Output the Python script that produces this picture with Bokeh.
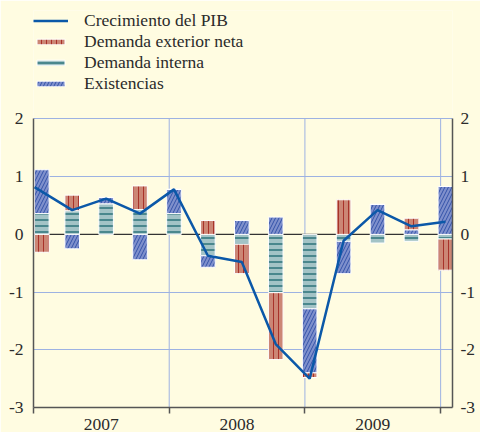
import numpy as np
from bokeh.plotting import figure
from bokeh.models import Range1d, FixedTicker, LinearAxis, Span, Legend, LegendItem
from bokeh.embed import file_html
from bokeh.resources import INLINE

# ---- data (quarters) ----
quarters = ["2007-I", "2007-II", "2007-III", "2007-IV",
            "2008-I", "2008-II", "2008-III", "2008-IV",
            "2009-I", "2009-II", "2009-III", "2009-IV", "2010-I"]
years = ["2007", "2008", "2009"]
pib = [0.82, 0.42, 0.62, 0.36, 0.78, -0.37, -0.48, -1.90, -2.50, -0.11, 0.42, 0.14, 0.22]
exterior = [-0.31, 0.27, 0.00, 0.41, 0.00, 0.24, -0.51, -1.16, -0.08, 0.60, 0.00, 0.20, -0.54]
interna = [0.36, 0.41, 0.53, 0.43, 0.36, -0.37, -0.17, -1.01, -1.29, -0.12, -0.15, -0.12, -0.08]
existencias = [0.76, -0.25, 0.11, -0.44, 0.42, -0.20, 0.24, 0.30, -1.11, -0.56, 0.52, 0.08, 0.83]
y_ticks = [-3, -2, -1, 0, 1, 2]
year_bounds = [4, 8, 12]

BG = "#FFFCE1"
GRID = "#9DB2E2"
AX = "#555555"
TXT = "#2b2b2b"
FONT = "Liberation Serif"
FS = "17.5px"

Y_MIN, Y_MAX = -3, 2
n = len(quarters)
k = np.arange(n)
bar_w = 0.43
centers = k + 0.14
lefts = np.maximum(centers - bar_w / 2, 0.03)
rights = lefts + bar_w
line_x = np.where(k == 0, lefts, centers)

# extra room above the value axis holds the legend
p = figure(width=480, height=432, output_backend="svg", toolbar_location=None,
           x_range=Range1d(0, 12.35), y_range=Range1d(Y_MIN, 3.88),
           min_border_left=33, min_border_right=28, min_border_top=10,
           min_border_bottom=24)
p.background_fill_color = BG
p.border_fill_color = BG
p.outline_line_color = None

# grids
p.xgrid.visible = False
p.segment(x0=year_bounds, y0=Y_MIN, x1=year_bounds, y1=Y_MAX,
          line_color=GRID, line_width=1, level="underlay")
p.ygrid.ticker = FixedTicker(ticks=[-2, -1, 1, 2])
p.ygrid.grid_line_color = GRID
p.ygrid.grid_line_width = 1
p.add_layout(Span(location=0, dimension="width", line_color="#333333",
                  line_width=1.2, level="underlay"))

# stacked bars
styles = {
    "interna": dict(fill_color="#A3C3C6", hatch_pattern="horizontal_line",
                    hatch_color="#4A878D", hatch_scale=6, hatch_weight=2),
    "existencias": dict(fill_color="#7F90CC", hatch_pattern="right_diagonal_line",
                        hatch_color="#3352A8", hatch_scale=7, hatch_weight=1),
    "exterior": dict(fill_color="#CC8675", hatch_pattern="vertical_line",
                     hatch_color="#A8322A", hatch_scale=5, hatch_weight=1),
}
series = [("interna", interna), ("existencias", existencias), ("exterior", exterior)]
pos_base = np.zeros(n)
neg_base = np.zeros(n)
renderers = {}
for name, vals in series:
    v = np.array(vals, dtype=float)
    bottom = np.where(v >= 0, pos_base, neg_base)
    top = bottom + v
    pos_base = np.where(v > 0, top, pos_base)
    neg_base = np.where(v < 0, top, neg_base)
    renderers[name] = p.quad(left=lefts, right=rights, bottom=bottom, top=top,
                             line_color="white", line_width=1, **styles[name])

line_r = p.line(line_x, pib, line_color="#0B58A8", line_width=2.5)

# axes
right_ax = LinearAxis()
p.add_layout(right_ax, "right")
for ax in p.yaxis:
    ax.ticker = FixedTicker(ticks=y_ticks)
    ax.major_label_overrides = {t: str(t) for t in y_ticks}
    ax.bounds = (Y_MIN, Y_MAX)
    ax.axis_line_color = AX
    ax.axis_line_width = 1.5
    ax.major_tick_out = 0
    ax.major_tick_in = 0
    ax.minor_tick_out = 0
    ax.minor_tick_in = 0
    ax.axis_label_standoff = 0
    ax.major_label_text_font = FONT
    ax.major_label_text_font_size = FS
    ax.major_label_text_color = TXT
p.yaxis[0].major_label_standoff = 10
right_ax.major_label_standoff = 8

xa = p.xaxis[0]
xa.ticker = FixedTicker(ticks=[2, 6, 10], minor_ticks=[0] + year_bounds)
xa.major_label_overrides = {2: years[0], 6: years[1], 10: years[2]}
xa.axis_line_color = AX
xa.axis_line_width = 1.5
xa.major_tick_out = 0
xa.major_tick_in = 0
xa.minor_tick_in = 0
xa.minor_tick_out = 6
xa.minor_tick_line_color = AX
xa.minor_tick_line_width = 1.5
xa.axis_label_standoff = 0
xa.major_label_standoff = 5
xa.major_label_text_font = FONT
xa.major_label_text_font_size = FS
xa.major_label_text_color = TXT

legend = Legend(items=[
    LegendItem(label="Crecimiento del PIB", renderers=[line_r]),
    LegendItem(label="Demanda exterior neta", renderers=[renderers["exterior"]]),
    LegendItem(label="Demanda interna", renderers=[renderers["interna"]]),
    LegendItem(label="Existencias", renderers=[renderers["existencias"]]),
], location="top_left", orientation="vertical")
legend.glyph_width = 35
legend.glyph_height = 7
legend.label_standoff = 16
legend.label_height = 21
legend.spacing = 0
legend.padding = 0
legend.margin = 0
legend.label_text_font = FONT
legend.label_text_font_size = FS
legend.label_text_color = TXT
legend.background_fill_alpha = 0
legend.border_line_color = None
p.add_layout(legend, "center")

open("out.html", "w").write(file_html(p, INLINE))
